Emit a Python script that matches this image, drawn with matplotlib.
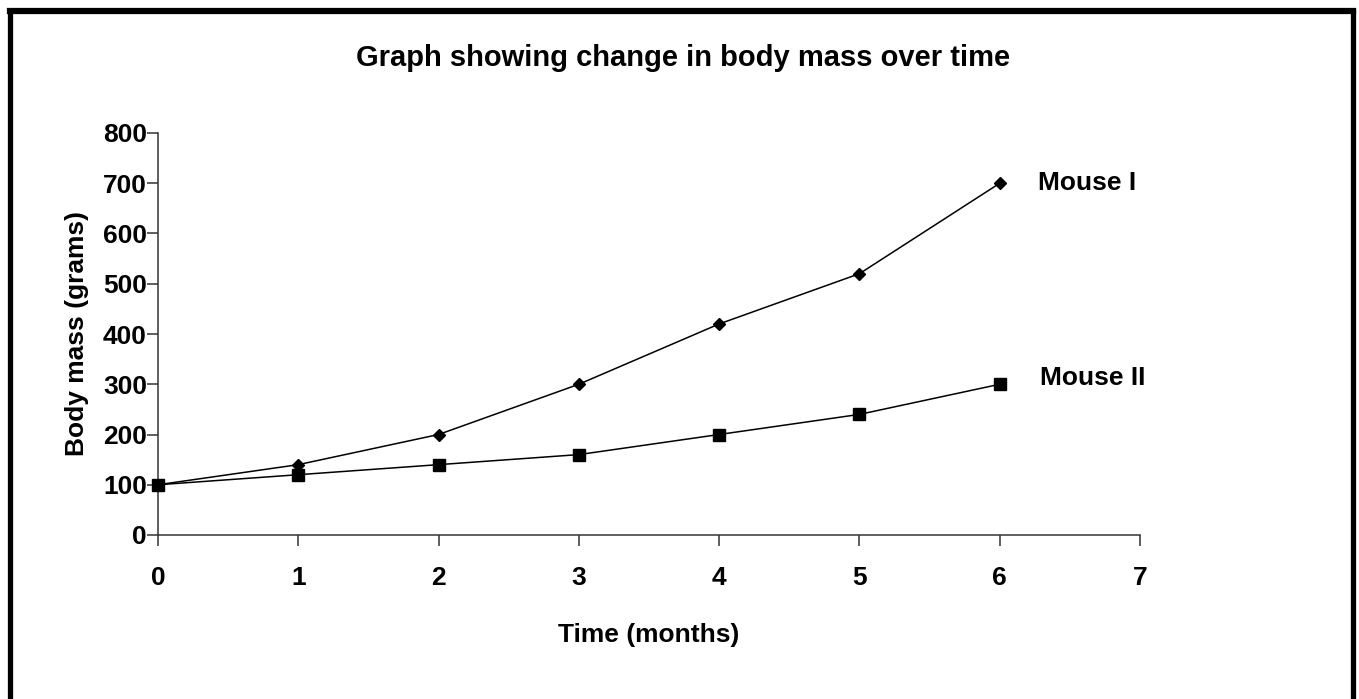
import matplotlib
matplotlib.use("Agg")
import matplotlib.pyplot as plt
from matplotlib.lines import Line2D

months = [0, 1, 2, 3, 4, 5, 6]
mouse1 = [100, 140, 200, 300, 420, 520, 700]
mouse2 = [100, 120, 140, 160, 200, 240, 300]
xticks = [0, 1, 2, 3, 4, 5, 6, 7]
yticks = [0, 100, 200, 300, 400, 500, 600, 700, 800]

plt.rcParams['font.family'] = ['Liberation Sans', 'DejaVu Sans']

W, H = 1359, 699
fig = plt.figure(figsize=(W/100, H/100), dpi=100)
fig.patch.set_facecolor('white')

# frame border (top, left, right)
fig.add_artist(Line2D([9.5/W, 9.5/W], [0, 1 - 11/H], color='black', lw=3.8, transform=fig.transFigure, solid_capstyle='projecting'))
fig.add_artist(Line2D([1352.5/W, 1352.5/W], [0, 1 - 11/H], color='black', lw=3.8, transform=fig.transFigure, solid_capstyle='projecting'))
fig.add_artist(Line2D([9.5/W, 1352.5/W], [1 - 11/H, 1 - 11/H], color='black', lw=4.5, transform=fig.transFigure, solid_capstyle='projecting'))

ax = fig.add_axes([158/W, (H-535)/H, (1140-158)/W, (535-133)/H])
ax.plot(months, mouse1, color='black', lw=1.1, marker='D', markersize=6.5, zorder=3, clip_on=False)
ax.plot(months, mouse2, color='black', lw=1.1, marker='s', markersize=8.5, zorder=3, clip_on=False)

ax.set_xlim(0, 7)
ax.set_ylim(0, 800)
ax.set_xticks(xticks)
ax.set_yticks(yticks)
for s in ['top', 'right']:
    ax.spines[s].set_visible(False)
for s in ['left', 'bottom']:
    ax.spines[s].set_color('#333333')
    ax.spines[s].set_linewidth(1.1)
ax.tick_params(axis='both', direction='out', length=8, width=1.1, color='#333333', labelsize=19)
ax.tick_params(axis='x', pad=14)
ax.tick_params(axis='y', pad=0)
for lab in ax.get_xticklabels() + ax.get_yticklabels():
    lab.set_fontweight('bold')

ax.set_xlabel('Time (months)', fontsize=19, fontweight='bold', labelpad=24)
ax.set_ylabel('Body mass (grams)', fontsize=19, fontweight='bold', labelpad=10)

ax.text(6.27, 700, 'Mouse I', fontsize=19, fontweight='bold', va='center', ha='left')
ax.text(6.29, 312, 'Mouse II', fontsize=19, fontweight='bold', va='center', ha='left')

fig.text(683/W, 1 - 58/H, 'Graph showing change in body mass over time', fontsize=21,
         fontweight='bold', ha='center', va='center')

fig.savefig('out.png', dpi=100, facecolor='white')
